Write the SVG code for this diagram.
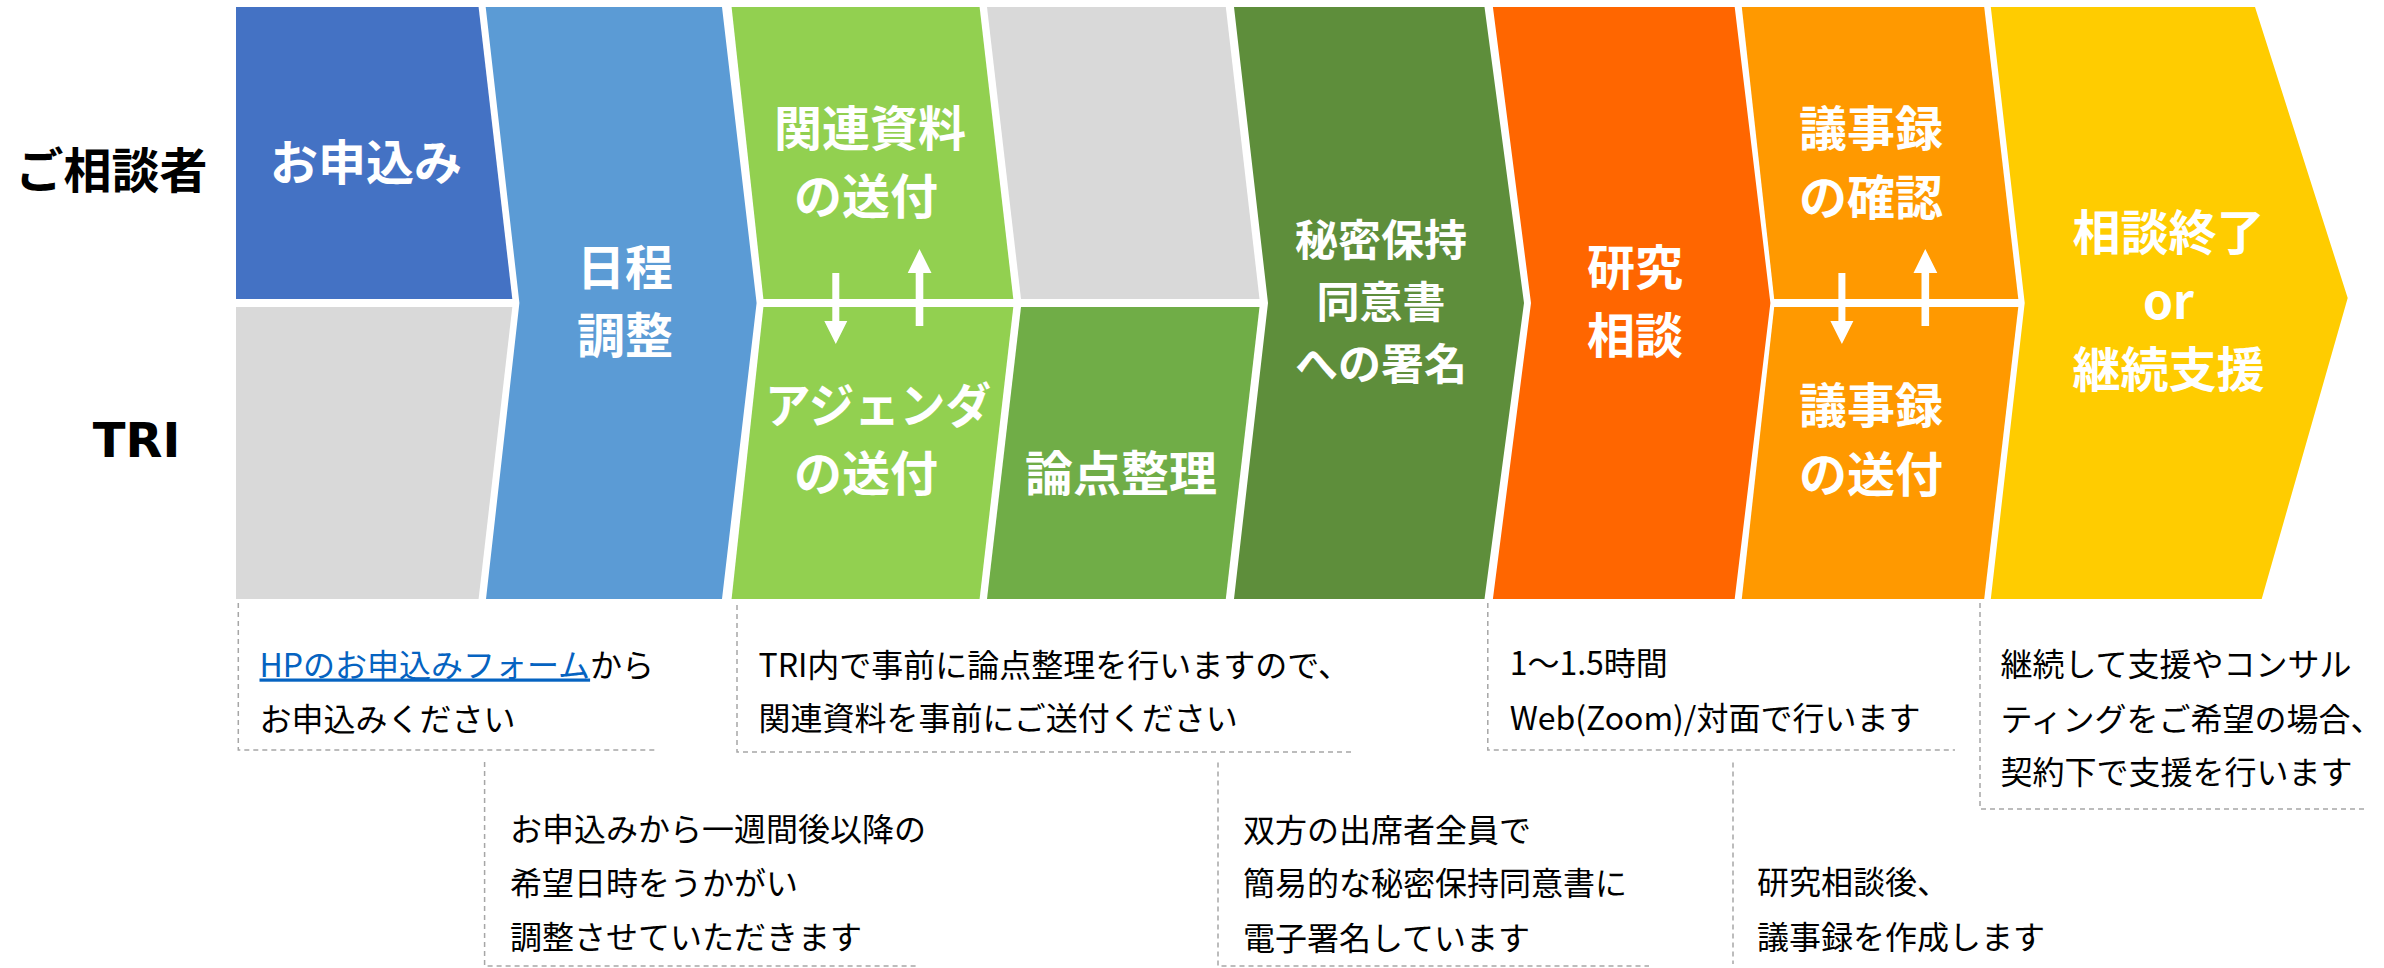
<svg xmlns="http://www.w3.org/2000/svg" width="2384" height="968" viewBox="0 0 2384 968">
<style>
.lbl{font-family:"Noto Sans CJK JP","Noto Sans",sans-serif;font-weight:700;font-size:48px;fill:#fff;text-anchor:middle}
.row{font-family:"Noto Sans CJK JP","Noto Sans",sans-serif;font-weight:700;font-size:48px;fill:#000;text-anchor:middle}
.note{font-family:"Noto Sans CJK JP","Noto Sans",sans-serif;font-size:32px;fill:#000}
.link{fill:#0563C1;text-decoration:underline}
.dash{fill:none;stroke:#A6A6A6;stroke-width:1.5;stroke-dasharray:5 4}
.arrow{fill:#fff}
</style>
<rect width="2384" height="968" fill="#fff"/>
<g id="row-labels">
<text class="row" x="111.5" y="188">ご相談者</text>
<text x="136.5" y="457" style="font-family:'DejaVu Sans',sans-serif;font-weight:700;font-size:48px;fill:#000;text-anchor:middle">TRI</text>
</g>
<g id="step-apply">
<polygon points="236,7 478.6,7 512.3,299 236,299" fill="#4472C4"/>
<text class="lbl" x="366" y="180">お申込み</text>
</g>
<g id="tri-empty-1">
<polygon points="236,307 512.3,307 478.6,599 236,599" fill="#D9D9D9"/>
</g>
<g id="step-schedule">
<polygon points="485.7,7 722,7 756.6,303 722,599 486,599 519.4,303" fill="#5B9BD5"/>
<text class="lbl" x="625" y="285">日程</text>
<text class="lbl" x="625" y="353">調整</text>
</g>
<g id="step-materials">
<polygon points="731.6,7 979.6,7 1013.3,299 763.4,299" fill="#92D050"/>
<text class="lbl" x="870" y="146">関連資料</text>
<text class="lbl" x="866" y="214">の送付</text>
</g>
<g id="step-agenda">
<polygon points="763.4,307 1013.3,307 979.6,599 731.6,599" fill="#92D050"/>
<text class="lbl" x="878" y="423" textLength="226" lengthAdjust="spacingAndGlyphs">アジェンダ</text>
<text class="lbl" x="866" y="491">の送付</text>
</g>
<g id="client-empty-4">
<polygon points="987,7 1225.8,7 1259.5,299 1021,299" fill="#D9D9D9"/>
</g>
<g id="step-issues">
<polygon points="1021,307 1259.5,307 1225.8,599 987,599" fill="#70AD47"/>
<text class="lbl" x="1121" y="491">論点整理</text>
</g>
<g id="step-nda">
<polygon points="1234,7 1484.5,7 1524,303 1484.5,599 1234,599 1268,303" fill="#5E8E3B"/>
<text class="lbl" x="1381" y="256" style="font-size:43px">秘密保持</text>
<text class="lbl" x="1381" y="318" style="font-size:43px">同意書</text>
<text class="lbl" x="1381" y="380" style="font-size:43px">への署名</text>
</g>
<g id="step-consult">
<polygon points="1492.9,7 1734.7,7 1770.4,303 1734.7,599 1492.9,599 1531,303" fill="#FF6600"/>
<text class="lbl" x="1635" y="285">研究</text>
<text class="lbl" x="1635" y="353">相談</text>
</g>
<g id="step-minutes-check">
<polygon points="1741.8,7 1984.2,7 2018.3,299 1774.2,299" fill="#FF9900"/>
<text class="lbl" x="1871" y="145.5">議事録</text>
<text class="lbl" x="1871" y="214.5">の確認</text>
</g>
<g id="step-minutes-send">
<polygon points="1774.2,307 2018.3,307 1984.2,599 1741.8,599" fill="#FF9900"/>
<text class="lbl" x="1871" y="422.5">議事録</text>
<text class="lbl" x="1871" y="491.5">の送付</text>
</g>
<g id="step-end">
<polygon points="1990.8,7 2255,7 2347.7,298 2261.7,599 1990.8,599 2024.7,303" fill="#FFCC00"/>
<text class="lbl" x="2168.5" y="249.5">相談終了</text>
<text class="lbl" x="2168.5" y="318.5">or</text>
<text class="lbl" x="2168.5" y="386.5">継続支援</text>
</g>
<g id="connectors">
<path class="arrow" d="M832.3,273 H839.3 V321 H847.3 L835.8,344 L824.3,321 H832.3 Z"/>
<path class="arrow" d="M915.7,326 H923.3 V273 H931.5 L919.5,249 L907.7,273 H915.7 Z"/>
<path class="arrow" d="M1838.4,273 H1845.4 V321 H1853.4 L1841.9,344 L1830.4,321 H1838.4 Z"/>
<path class="arrow" d="M1921.5,326 H1929.1 V273 H1937.3 L1925.3,249 L1913.5,273 H1921.5 Z"/>
</g>
<g id="note-apply">
<path class="dash" d="M238.3,603 V750 H655"/>
<text class="note" x="259.5" y="676.5"><tspan class="link">HPのお申込みフォーム</tspan>から</text>
<text class="note" x="259.5" y="730.5">お申込みください</text>
</g>
<g id="note-schedule">
<path class="dash" d="M484.6,762 V966 H919"/>
<text class="note" x="510" y="841">お申込みから一週間後以降の</text>
<text class="note" x="510" y="894.5">希望日時をうかがい</text>
<text class="note" x="510" y="948.5">調整させていただきます</text>
</g>
<g id="note-materials">
<path class="dash" d="M737,605 V752 H1351.5"/>
<text class="note" x="758.5" y="677">TRI内で事前に論点整理を行いますので、</text>
<text class="note" x="758.5" y="730">関連資料を事前にご送付ください</text>
</g>
<g id="note-nda">
<path class="dash" d="M1218,762.5 V966 H1649"/>
<text class="note" x="1243" y="842">双方の出席者全員で</text>
<text class="note" x="1243" y="895">簡易的な秘密保持同意書に</text>
<text class="note" x="1243" y="950">電子署名しています</text>
</g>
<g id="note-consult">
<path class="dash" d="M1487.8,603 V750 H1955"/>
<text class="note" x="1509.7" y="675">1～1.5時間</text>
<text class="note" x="1509.7" y="730">Web(Zoom)/対面で行います</text>
</g>
<g id="note-minutes">
<path class="dash" d="M1733,762.5 V964"/>
<text class="note" x="1757" y="894">研究相談後、</text>
<text class="note" x="1757" y="949">議事録を作成します</text>
</g>
<g id="note-end">
<path class="dash" d="M1980,603 V809 H2367"/>
<text class="note" x="2000.5" y="676">継続して支援やコンサル</text>
<text class="note" x="2000.5" y="731">ティングをご希望の場合、</text>
<text class="note" x="2000.5" y="784">契約下で支援を行います</text>
</g>
</svg>
